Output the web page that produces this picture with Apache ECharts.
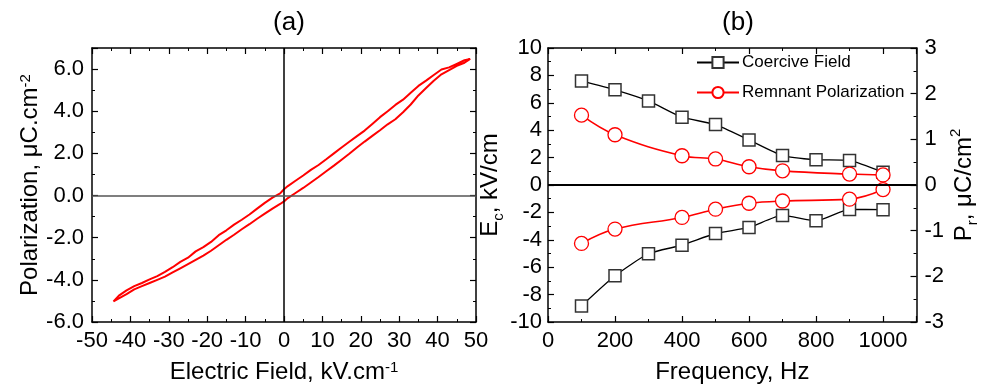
<!DOCTYPE html>
<html><head><meta charset="utf-8">
<script src="https://cdn.jsdelivr.net/npm/echarts@6/dist/echarts.min.js"></script>
<style>html,body{margin:0;padding:0;background:#fff}#c{width:981px;height:390px}</style>
</head><body><div id="c"></div>
<script>
// Panel (a): P–E hysteresis loop
const upperE = [48.5,47,45,43,41,39,37,35,33,31,29,27,25,23,21,19,17,15,13,11,9,7,5,3,1,0,-1,-3,-5,-7,-9,-11,-13,-15,-17,-19,-21,-23,-25,-27,-29,-31,-33,-35,-37,-39,-41,-43,-44.4];
const upperP = [6.48,6.42,6.25,6.08,5.98,5.72,5.45,5.2,4.88,4.55,4.3,4.0,3.72,3.4,3.08,2.82,2.55,2.28,2.0,1.72,1.45,1.22,0.95,0.7,0.45,0.3,0.1,-0.1,-0.35,-0.62,-0.9,-1.15,-1.38,-1.65,-1.88,-2.2,-2.45,-2.65,-2.95,-3.15,-3.4,-3.62,-3.82,-3.98,-4.15,-4.3,-4.5,-4.75,-5.02];
const lowerE = [-44.4,-43,-41,-39,-37,-35,-33,-31,-29,-27,-25,-23,-21,-19,-17,-15,-13,-11,-9,-7,-5,-3,-1,0,1,3,5,7,9,11,13,15,17,19,21,23,25,27,29,31,33,35,37,39,41,43,45,47,48.5];
const lowerP = [-5.02,-4.88,-4.68,-4.45,-4.3,-4.15,-4.0,-3.85,-3.65,-3.45,-3.25,-3.05,-2.85,-2.62,-2.36,-2.1,-1.86,-1.6,-1.36,-1.1,-0.86,-0.62,-0.4,-0.28,-0.12,0.12,0.36,0.62,0.88,1.15,1.42,1.7,1.98,2.28,2.56,2.83,3.1,3.38,3.62,3.95,4.32,4.75,5.1,5.45,5.75,5.95,6.15,6.3,6.48];

// Panel (b): frequency dependence
const freq = [100,200,300,400,500,600,700,800,900,1000];
const ecPos = [7.6,6.95,6.14,4.95,4.41,3.29,2.15,1.85,1.78,0.93];
const ecNeg = [-8.83,-6.63,-5.02,-4.39,-3.54,-3.1,-2.22,-2.61,-1.78,-1.8];
const prFreq = [100,200,400,500,600,700,900,1000];
const prPos = [1.53,1.10,0.64,0.57,0.40,0.31,0.24,0.22];
const prNeg = [-1.28,-0.965,-0.71,-0.53,-0.40,-0.35,-0.31,-0.10];

const FF = 'Liberation Sans, Arial, sans-serif';
const chart = echarts.init(document.getElementById('c'));

const loop = upperE.map((e,i)=>[e,upperP[i]]).concat(lowerE.map((e,i)=>[e,lowerP[i]]));
const zip = (xs, ys) => xs.map((x,i)=>[x, ys[i]]);

const axLine = {show:true, onZero:false, lineStyle:{color:'#000', width:1.5}};
const tick = {show:true, inside:true, length:6, lineStyle:{color:'#000', width:1.2}};
const minor = {show:true, splitNumber:2, length:3, lineStyle:{color:'#000', width:1}};
const lab = {fontFamily:FF, fontSize:22, color:'#000'};
const nameStyle = (extra) => Object.assign({fontFamily:FF, fontSize:24, color:'#000',
  rich:{a:{fontFamily:FF, fontSize:24, color:'#000'},
        sup:{fontFamily:FF, fontSize:15, color:'#000', verticalAlign:'top'},
        sub:{fontFamily:FF, fontSize:15, color:'#000', verticalAlign:'bottom', lineHeight:32}}}, extra||{});

const squareStyle = {color:'#fff', borderColor:'#333', borderWidth:1.5};
const circleStyle = {color:'#fff', borderColor:'#ff0000', borderWidth:1.3};

chart.setOption({
  animation:false,
  backgroundColor:'#fff',
  title:[
    {text:'(a)', left:284, top:5, textAlign:'center', textStyle:{fontFamily:FF, fontSize:26, fontWeight:'normal', color:'#000'}},
    {text:'(b)', left:733, top:5, textAlign:'center', textStyle:{fontFamily:FF, fontSize:26, fontWeight:'normal', color:'#000'}}
  ],
  grid:[
    {left:92, right:505, top:48, bottom:68},
    {left:548, right:58, top:48, bottom:68}
  ],
  legend:{
    left:696, top:54, orient:'vertical', itemWidth:42, itemHeight:14, itemGap:13, padding:0,
    textStyle:{fontFamily:FF, fontSize:17, color:'#000', padding:[0,0,0,-2]},
    data:['Coercive Field','Remnant Polarization']
  },
  xAxis:[
    {type:'value', gridIndex:0, position:'bottom', min:-50, max:50, interval:10,
     axisLine:axLine, axisTick:tick, minorTick:minor, splitLine:{show:false},
     axisLabel:Object.assign({margin:8, formatter:v=>String(v)}, lab),
     name:'{a|Electric Field, kV.cm}{sup|-1}', nameLocation:'middle', nameGap:38, nameTextStyle:nameStyle()},
    {type:'value', gridIndex:0, position:'top', min:-50, max:50, interval:10,
     axisLine:axLine, axisTick:tick, minorTick:minor, splitLine:{show:false}, axisLabel:{show:false}},
    {type:'value', gridIndex:1, position:'bottom', min:0, max:1100, interval:200,
     axisLine:axLine, axisTick:tick, minorTick:minor, splitLine:{show:false},
     axisLabel:Object.assign({margin:8, showMaxLabel:false, formatter:v=>String(v)}, lab),
     name:'Frequency, Hz', nameLocation:'middle', nameGap:38, nameTextStyle:nameStyle()},
    {type:'value', gridIndex:1, position:'top', min:0, max:1100, interval:200,
     axisLine:axLine, axisTick:tick, minorTick:minor, splitLine:{show:false}, axisLabel:{show:false}}
  ],
  yAxis:[
    {type:'value', gridIndex:0, position:'left', min:-6, max:7, interval:2,
     axisLine:axLine, axisTick:tick, minorTick:minor, splitLine:{show:false},
     axisLabel:Object.assign({margin:8, showMaxLabel:false, formatter:v=>v.toFixed(1)}, lab),
     name:'{a|Polarization, μC.cm}{sup|-2}', nameLocation:'middle', nameGap:50, nameRotate:90, nameTextStyle:nameStyle()},
    {type:'value', gridIndex:0, position:'right', min:-6, max:7, interval:2,
     axisLine:axLine, axisTick:tick, minorTick:minor, splitLine:{show:false}, axisLabel:{show:false}},
    {type:'value', gridIndex:1, position:'left', min:-10, max:10, interval:2,
     axisLine:axLine, axisTick:tick, minorTick:minor, splitLine:{show:false},
     axisLabel:Object.assign({margin:6, formatter:v=>String(v)}, lab),
     name:'{a|E}{sub|c}{a|, kV/cm}', nameLocation:'middle', nameGap:38, nameRotate:90, nameTextStyle:nameStyle()},
    {type:'value', gridIndex:1, position:'right', min:-3, max:3, interval:1,
     axisLine:axLine, axisTick:tick, minorTick:minor, splitLine:{show:false},
     axisLabel:Object.assign({margin:8, formatter:v=>String(v)}, lab),
     name:'{a|P}{sub|r}{a|, μC/cm}{sup|2}', nameLocation:'middle', nameGap:30, nameRotate:90, nameTextStyle:nameStyle()}
  ],
  series:[
    {type:'line', xAxisIndex:0, yAxisIndex:0, data:loop, showSymbol:false, symbol:'none',
     lineStyle:{color:'#ff0000', width:2}, silent:true,
     markLine:{silent:true, symbol:'none', label:{show:false},
       data:[{xAxis:0, lineStyle:{color:'#000', width:1.5, type:'solid'}},
             {yAxis:0, lineStyle:{color:'#555', width:1.5, type:'solid'}}]}},
    {name:'Coercive Field', type:'line', xAxisIndex:2, yAxisIndex:2, data:zip(freq, ecPos), smooth:0.2,
     symbol:'rect', symbolSize:12, itemStyle:squareStyle, lineStyle:{color:'#000', width:1.3}, z:3,
     markLine:{silent:true, symbol:'none', label:{show:false},
       data:[{yAxis:0, lineStyle:{color:'#000', width:2, type:'solid'}}]}},
    {name:'Coercive Field', type:'line', xAxisIndex:2, yAxisIndex:2, data:zip(freq, ecNeg), smooth:0.2,
     symbol:'rect', symbolSize:12, itemStyle:squareStyle, lineStyle:{color:'#000', width:1.3}, z:3},
    {name:'Remnant Polarization', type:'line', xAxisIndex:2, yAxisIndex:3, data:zip(prFreq, prPos), smooth:0.4,
     symbol:'circle', symbolSize:14, itemStyle:circleStyle, lineStyle:{color:'#ff0000', width:1.6}, z:4},
    {name:'Remnant Polarization', type:'line', xAxisIndex:2, yAxisIndex:3, data:zip(prFreq, prNeg), smooth:0.4,
     symbol:'circle', symbolSize:14, itemStyle:circleStyle, lineStyle:{color:'#ff0000', width:1.6}, z:4}
  ]
});
</script></body></html>
